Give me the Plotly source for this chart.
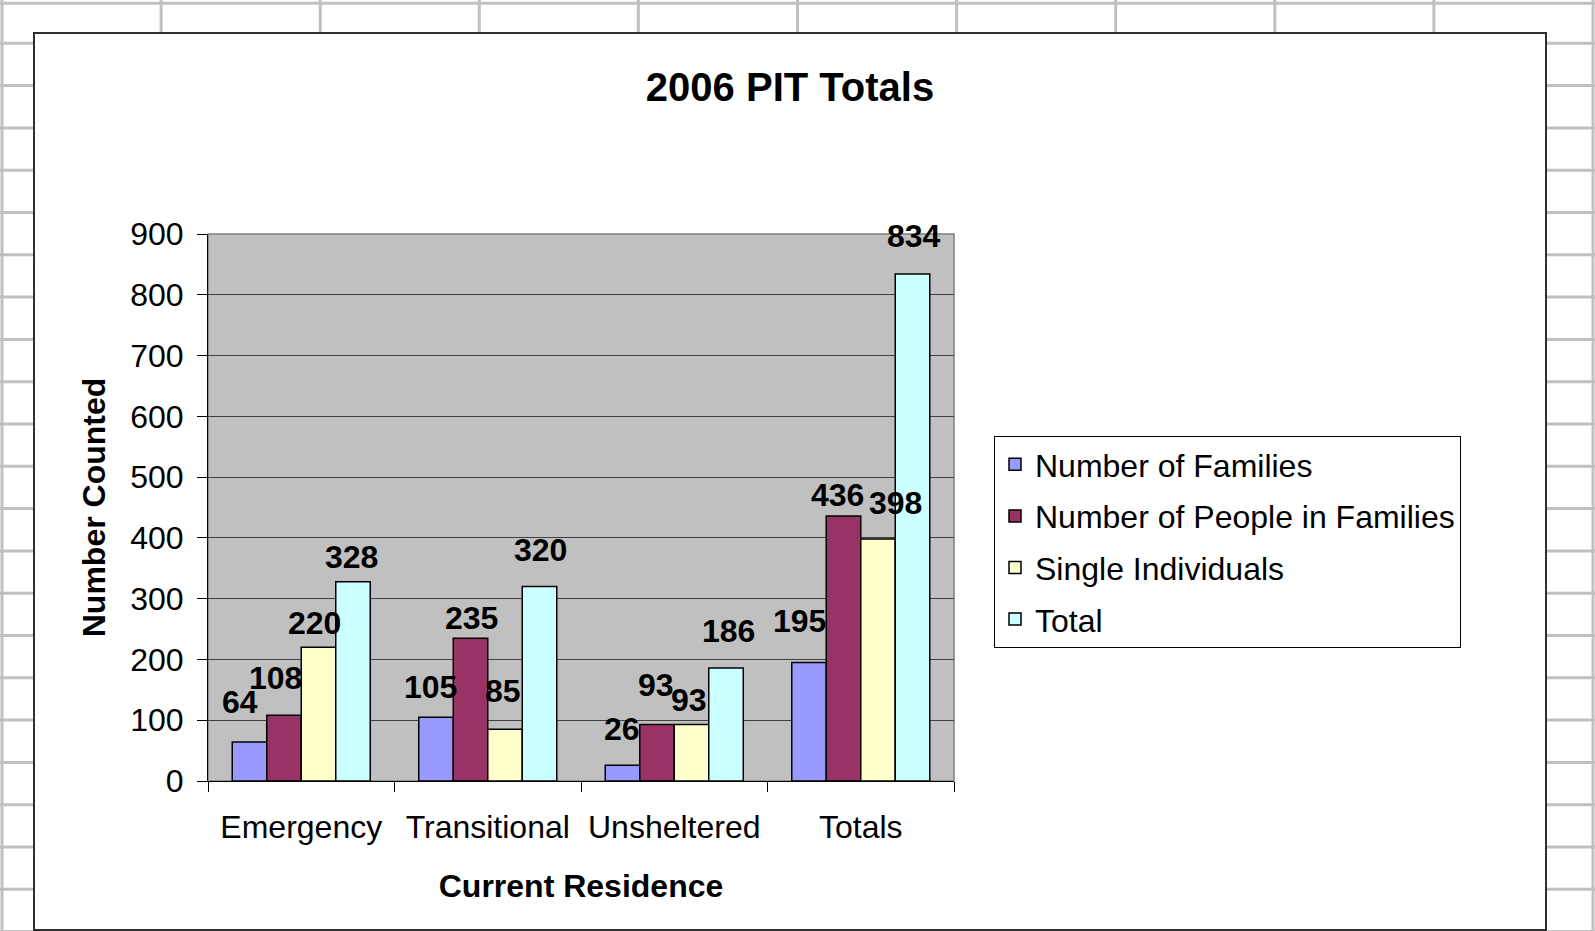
import plotly.graph_objects as go

# ---------------- data ----------------
categories = ["Emergency", "Transitional", "Unsheltered", "Totals"]
series_names = ["Number of Families", "Number of People in Families",
                "Single Individuals", "Total"]
families = [64, 105, 26, 195]
people_in_families = [108, 235, 93, 436]
single_individuals = [220, 85, 93, 398]
total = [328, 320, 186, 834]
y_ticks = [0, 100, 200, 300, 400, 500, 600, 700, 800, 900]

series_values = [families, people_in_families, single_individuals, total]

# ---------------- style ----------------
colors = ["#9999FF", "#993366", "#FFFFCC", "#CCFFFF"]
FONT = "Liberation Sans, Arial, sans-serif"

# per-label nudges in pixels (horizontal offset, baseline gap above bar)
label_dx = [[-9, -5, 0, -9], [-8, 1.5, -1, -6], [-4.5, -2, -3, 17], [-1.5, 1, 2, 1]]
label_gap = [[28, 18, 24, 29], [25, 8, 27, 9], [12, 26, 12, 24], [13, 25, 25, 26]]

W, H = 1595, 931
PL, PR, PT, PB = 208, 954, 234, 781
BARGAP = 0.26


def px(x):
    return (x - PL) / (PR - PL)


def py(y):
    return (PB - y) / (PB - PT)


fig = go.Figure()
for name, vals, col in zip(series_names, series_values, colors):
    fig.add_trace(go.Bar(
        x=categories, y=vals, name=name, legendgroup=name,
        marker=dict(color=col, line=dict(color="black", width=1.5)),
    ))

# data labels
cat_w = (PR - PL) / len(categories)
bar_w = cat_w * (1 - BARGAP) / len(series_values)
annotations = []
for i, vals in enumerate(series_values):
    for j, v in enumerate(vals):
        annotations.append(dict(
            x=categories[j], y=v, xref="x", yref="y",
            text="<b>%d</b>" % v, showarrow=False,
            xanchor="center", yanchor="bottom",
            xshift=(i - (len(series_values) - 1) / 2) * bar_w + label_dx[i][j],
            yshift=label_gap[i][j] - 8,
            font=dict(family=FONT, size=32, color="black"),
        ))

# spreadsheet background grid + chart area + plot area
shapes = []
for k in range(11):
    x = 2 + 159.1 * k
    shapes.append(dict(type="line", xref="paper", yref="paper", layer="below",
                       x0=px(x), x1=px(x), y0=py(0), y1=py(H),
                       line=dict(color="#c0c0c0", width=3)))
rows = [3.3] + [43.3 + 42.3 * k for k in range(22)]
for y in rows:
    shapes.append(dict(type="line", xref="paper", yref="paper", layer="below",
                       x0=px(0), x1=px(W), y0=py(y), y1=py(y),
                       line=dict(color="#c0c0c0", width=3)))
shapes.append(dict(type="rect", xref="paper", yref="paper", layer="below",
                   x0=px(34), x1=px(1546), y0=py(33), y1=py(930),
                   fillcolor="white", line=dict(color="#303030", width=2)))
shapes.append(dict(type="rect", xref="paper", yref="paper", layer="below",
                   x0=0, x1=1, y0=0, y1=1,
                   fillcolor="#c0c0c0", line=dict(color="#808080", width=1.5)))

fig.update_layout(
    width=W, height=H,
    margin=dict(l=PL, r=W - PR, t=PT, b=H - PB, pad=0),
    paper_bgcolor="white", plot_bgcolor="rgba(0,0,0,0)",
    barmode="group", bargap=BARGAP, bargroupgap=0,
    font=dict(family=FONT, color="black", size=32),
    title=dict(text="<b>2006 PIT Totals</b>", font=dict(family=FONT, size=40, color="black"),
               x=px(790), xref="paper", xanchor="center",
               y=1 - 87 / H, yref="container", yanchor="middle"),
    xaxis=dict(
        showline=True, linecolor="black", linewidth=1,
        ticks="outside", tickson="boundaries", ticklen=10, tickcolor="black",
        tickfont=dict(size=32), ticklabelstandoff=18,
        showgrid=False,
        title=dict(text="<b>Current Residence</b>", font=dict(size=32), standoff=30),
    ),
    yaxis=dict(
        range=[0, 900], tickvals=y_ticks, ticktext=[str(v) for v in y_ticks],
        showline=True, linecolor="black", linewidth=1,
        ticks="outside", ticklen=10, tickcolor="black",
        tickfont=dict(size=32), ticklabelstandoff=7,
        showgrid=True, gridcolor="#404040", gridwidth=1, zeroline=False,
        title=dict(text="<b>Number Counted</b>", font=dict(size=32), standoff=15),
    ),
    legend=dict(
        x=px(994), y=py(436), xref="paper", yref="paper",
        xanchor="left", yanchor="top",
        bgcolor="white", bordercolor="black", borderwidth=1,
        font=dict(size=32), tracegroupgap=7, traceorder="grouped",
    ),
    annotations=annotations,
    shapes=shapes,
)

fig.write_html("out.html", config={"displayModeBar": False},
               post_script="document.body.style.margin='0';document.body.style.overflow='hidden';")
